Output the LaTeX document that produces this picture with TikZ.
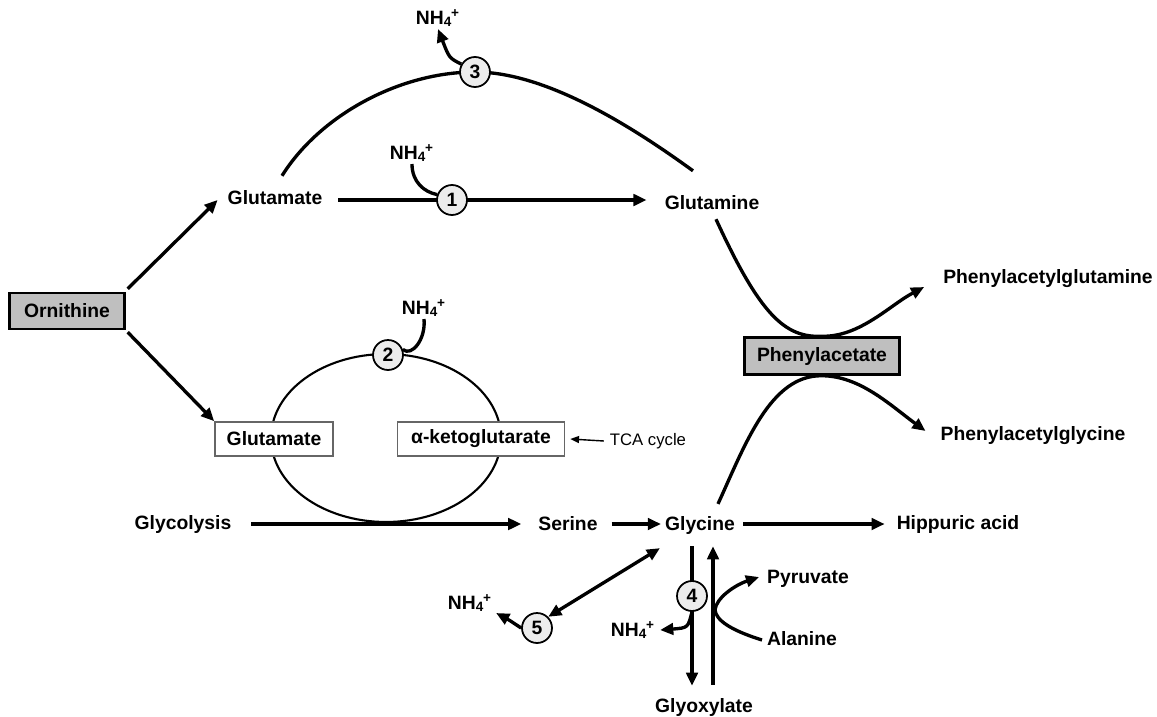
\documentclass[tikz,border=0pt]{standalone}
\usepackage{fontspec}
\setmainfont{Liberation Sans}
\usetikzlibrary{arrows.meta,calc}
\pgfdeclarelayer{bg}
\pgfsetlayers{bg,main}
\newcommand{\nhf}{NH\textsubscript{4}\kern-0.6pt\textsuperscript{+}}
\begin{document}
\begin{tikzpicture}[x=0.02cm,y=-0.02cm,
  lbl/.style={font=\bfseries\fontsize{11}{13}\selectfont, inner sep=1pt},
  graybox/.style={lbl, draw=black, line width=1.4pt, fill=gray!50, minimum height=0.72cm},
  whitebox/.style={lbl, draw=gray!80!black, line width=0.9pt, fill=white, minimum height=0.68cm},
  circ/.style={circle, draw=black, line width=1pt, fill=gray!15, minimum size=0.6cm, inner sep=0pt, font=\bfseries\fontsize{11}{13}\selectfont},
  arr/.style={line width=1.9pt, -{Triangle[length=7.5pt,width=6.5pt]}},
  darr/.style={line width=1.9pt, {Triangle[length=7.5pt,width=6.5pt]}-{Triangle[length=7.5pt,width=6.5pt]}},
  ln/.style={line width=1.9pt},
  thinln/.style={line width=1.2pt}
]
\useasboundingbox (0,0) rectangle (1157,717);

% nodes
\node[graybox, minimum width=2.3cm] (orn) at (67,311) {Ornithine};
\node[lbl] (glu1) at (275,198) {Glutamate};
\node[lbl] (gln) at (712,203) {Glutamine};
\node[whitebox, minimum width=2.36cm] (glu2) at (274,439) {Glutamate};
\node[whitebox, minimum width=3.34cm] (akg) at (481,439) {α-ketoglutarate};
\node[font=\fontsize{9.5}{11}\selectfont, inner sep=1pt] (tca) at (648,441) {TCA cycle};
\node[lbl] (glyc) at (183,524) {Glycolysis};
\node[lbl] (ser) at (568,524) {Serine};
\node[lbl] (gly) at (700,525) {Glycine};
\node[lbl] (hip) at (958,524) {Hippuric acid};
\node[graybox, minimum width=3.1cm, minimum height=0.74cm] (pa) at (822,356) {Phenylacetate};
\node[lbl] (pagln) at (1048,279) {Phenylacetylglutamine};
\node[lbl] (pagly) at (1033,436) {Phenylacetylglycine};
\node[lbl] (pyr) at (808,579) {Pyruvate};
\node[lbl] (ala) at (802,639) {Alanine};
\node[lbl] (glx) at (704,707) {Glyoxylate};

\node[lbl] (nh1) at (412,153) {\nhf};
\node[lbl] (nh2) at (424,308) {\nhf};
\node[lbl] (nh3) at (438,18) {\nhf};
\node[lbl] (nh4) at (633,630) {\nhf};
\node[lbl] (nh5) at (470,603) {\nhf};

\node[circ] (c1) at (452,200) {1};
\node[circ] (c2) at (388,355) {2};
\node[circ] (c3) at (475,72) {3};
\node[circ] (c4) at (692,596) {4};
\node[circ] (c5) at (537,628) {5};

\begin{pgfonlayer}{bg}
% Ornithine branches
\draw[arr] ($(orn.north east)+(2,-3)$) -- ($(glu1.west)+(-8,2)$);
\draw[arr] ($(orn.south east)+(2,2)$) -- (glu2.north west);
% Glutamate -> Glutamine via 1
\draw[arr] ($(glu1.east)+(14,2)$) -- ($(gln.west)+(-16,-3)$);
\draw[ln] (nh1.south) .. controls ($(nh1.south)+(0,18)$) and ($(c1.west)+(-12,-8)$) .. (c1.160);
% arc via 3
\draw[ln] ($(glu1.north)+(7,-13)$) .. controls (320,115) and (400,72) .. (c3.center)
  .. controls (545,72) and (630,125) .. ($(gln.north)+(-19,-23)$);
\draw[arr] (c3.150) .. controls ($(c3.150)+(-12,-6)$) .. (nh3.south);
% cycle via 2
\draw[thinln] (386,438) ellipse [x radius=2.3cm, y radius=1.68cm];
\draw[ln] (nh2.south) .. controls ($(nh2.south)+(2,20)$) and ($(c2.east)+(8,2)$) .. (c2.20);
% TCA
\draw[line width=0.8pt, -{Triangle[length=5pt,width=4pt]}] ($(tca.west)+(-4,0)$) -- ($(akg.east)+(5,0)$);
% Glycolysis row
\draw[arr] ($(glyc.east)+(18,0)$) -- ($(ser.west)+(-15,0)$);
\draw[arr] ($(ser.east)+(12,0)$) -- ($(gly.west)+(-2,-1)$);
\draw[arr] ($(gly.east)+(6,-1)$) -- ($(hip.west)+(-10,0)$);
% Phenylacetate
\draw[arr] ($(gln.south)+(4,7)$) .. controls (760,315) and (785,338) .. (pa.north)
  .. controls (860,337) and (890,305) .. ($(pagln.west)+(-17,8)$);
\draw[arr] ($(gly.north)+(18,-10)$) .. controls (745,445) and (770,375) .. (pa.south)
  .. controls (860,376) and (890,405) .. ($(pagly.west)+(-13,-5)$);
% Glycine <-> 5
\draw[darr] ($(gly.south west)+(-3,12)$) -- (c5.north east);
\draw[arr] (c5.west) .. controls ($(c5.west)+(-12,-8)$) .. ($(nh5.east)+(2,10)$);
% Glycine -> Glyoxylate via 4
\draw[arr] ($(gly.south)+(-8,10)$) -- ($(glx.north)+(-12,-10)$);
\draw[arr] ($(glx.north)+(9,-11)$) -- ($(gly.south)+(13,10)$);
\draw[arr] (c4.south) .. controls ($(c4.south)+(-4,16)$) .. ($(nh4.east)+(3,0)$);
% Alanine -> Pyruvate
\draw[arr] ($(ala.west)+(-3,1)$) .. controls (730,630) and (716,620) .. (715,610)
  .. controls (716,598) and (735,585) .. ($(pyr.west)+(-6,-2)$);
\end{pgfonlayer}
\end{tikzpicture}
\end{document}
